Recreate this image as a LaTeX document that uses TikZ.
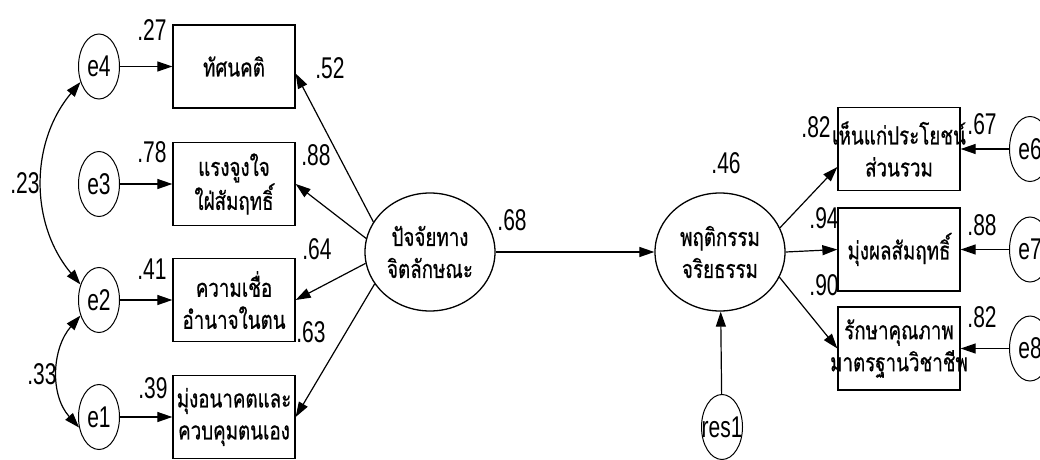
\documentclass[tikz,border=0pt]{standalone}
\usepackage{fontspec}
\setmainfont{Liberation Sans}[FakeStretch=0.7]
\newfontfamily\thaifont{Loma}[Script=Thai,FakeStretch=0.75,FakeBold=0.6]
\usetikzlibrary{arrows.meta,shapes.geometric}
\newcommand\zw[1]{\makebox[0pt]{#1}}
\tikzset{
  >={Triangle[length=15pt,width=10pt]},
  obs/.style={draw, line width=1.3pt, minimum width=122pt, minimum height=83pt,
    inner sep=0pt, align=center, font=\thaifont\fontsize{25}{32}\selectfont},
  err/.style={draw, ellipse, line width=1pt, minimum width=41pt, minimum height=65pt,
    inner sep=0pt, font=\fontsize{30}{30}\selectfont},
  lat/.style={draw, ellipse, line width=1.3pt, minimum width=130pt, minimum height=118pt,
    inner sep=0pt, align=center, font=\thaifont\fontsize{25}{32}\selectfont},
  reg/.style={line width=1.2pt, ->},
  cov/.style={line width=1.2pt, <->},
  coef/.style={inner sep=0pt, font=\fontsize{30}{30}\selectfont},
}
\begin{document}
\begin{tikzpicture}[x=1pt,y=1pt]
\useasboundingbox (0,0) rectangle (1040,459);
\clip (0,0) rectangle (1040,459);

% indicators of the exogenous factor
\node[obs] (b1) at (234,392.5) {\zw{ทัศนคติ}};
\node[obs] (b2) at (234,275) {\zw{แรงจูงใจ}\\\zw{ใฝ่สัมฤทธิ์}};
\node[obs] (b3) at (234,159) {\zw{ความเชื่อ}\\\zw{อำนาจในตน}};
\node[obs] (b4) at (234,42) {\zw{มุ่งอนาคตและ}\\\zw{ควบคุมตนเอง}};

% their error terms
\node[err] (e4) at (99,392.5) {\zw{e4}};
\node[err] (e3) at (99,275) {\zw{e3}};
\node[err] (e2) at (99,159) {\zw{e2}};
\node[err] (e1) at (99,42) {\zw{e1}};

% latent variables
\node[lat] (L) at (430,207) {ปัจจัยทาง\\จิตลักษณะ};
\node[lat] (R) at (720,207) {พฤติกรรม\\จริยธรรม};
\node[err] (res1) at (722,32) {\zw{res1}};

% indicators of the endogenous factor
\node[obs] (b6) at (899,310) {\zw{เห็นแก่ประโยชน์}\\\zw{ส่วนรวม}};
\node[obs] (b7) at (899,209.5) {\zw{มุ่งผลสัมฤทธิ์}};
\node[obs] (b8) at (899,110.5) {\zw{รักษาคุณภาพ}\\\zw{มาตรฐานวิชาชีพ}};
\node[err] (e6) at (1030,310) {\zw{e6}};
\node[err] (e7) at (1030,209.5) {\zw{e7}};
\node[err] (e8) at (1030,110.5) {\zw{e8}};

% paths
\draw[reg] (e4) -- (b1);
\draw[reg] (e3) -- (b2);
\draw[reg] (e2) -- (b3);
\draw[reg] (e1) -- (b4);
\draw[reg] (L.152) -- ([yshift=-7pt]b1.east);
\draw[reg] (L.168) -- (b2.east);
\draw[reg] (L.190) -- (b3.east);
\draw[reg] (L.210) -- (b4.east);
\draw[reg] (L) -- (R);
\draw[reg] (res1) -- (R);
\draw[reg] (R.22) -- ([yshift=-18pt]b6.west);
\draw[reg] (R.0) -- (b7.west);
\draw[reg] (R.337) -- (b8.west);
\draw[reg] (e6) -- (b6);
\draw[reg] (e7) -- (b7);
\draw[reg] (e8) -- (b8);

% covariances between error terms
\draw[cov] (e4.220) to[out=230,in=130] (e2.140);
\draw[cov] (e2.220) to[out=229,in=132] (e1.208);

% coefficients
\node[coef] at (152,429) {.27};
\node[coef] at (152,307) {.78};
\node[coef] at (152,190) {.41};
\node[coef] at (153,71) {.39};
\node[coef] at (330,391) {.52};
\node[coef] at (316,304) {.88};
\node[coef] at (317,210) {.64};
\node[coef] at (311,127) {.63};
\node[coef] at (25,276) {.23};
\node[coef] at (42,85) {.33};
\node[coef] at (512,239) {.68};
\node[coef] at (726,296) {.46};
\node[coef] at (816,332) {.82};
\node[coef] at (824,241) {.94};
\node[coef] at (824,174) {.90};
\node[coef] at (982,335) {.67};
\node[coef] at (982,234) {.88};
\node[coef] at (982,142) {.82};
\end{tikzpicture}
\end{document}
